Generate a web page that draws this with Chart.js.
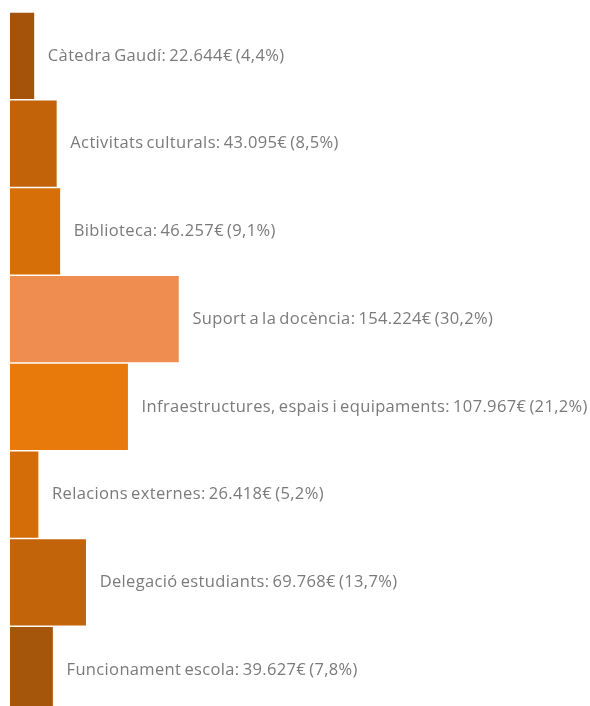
<!DOCTYPE html>
<html>
<head>
<meta charset="utf-8">
<script src="https://cdn.jsdelivr.net/npm/chart.js@4"></script>
<style>
    html, body { margin: 0; padding: 0; background: #fff; overflow: hidden; }
    #wrap { width: 590px; height: 714px; }
</style>
</head>
<body>
<div id="wrap"><canvas id="budgetChart"></canvas></div>
<script>
// budget items, top to bottom
const categories = [
    'Càtedra Gaudí',
    'Activitats culturals',
    'Biblioteca',
    'Suport a la docència',
    'Infraestructures, espais i equipaments',
    'Relacions externes',
    'Delegació estudiants',
    'Funcionament escola'
];
const amounts = [22644, 43095, 46257, 154224, 107967, 26418, 69768, 39627];
const percents = ['4,4', '8,5', '9,1', '30,2', '21,2', '5,2', '13,7', '7,8'];
const barColors = ['#A5530A', '#C2630A', '#D66F07', '#EF8C4F', '#E8790B', '#D46C08', '#C2640A', '#A6560A'];
const axisMax = 528000;

function euros(v) {
    return v.toLocaleString('de-DE') + '€';
}

const barLabels = {
    id: 'barLabels',
    afterDatasetsDraw(chart) {
        const ctx = chart.ctx;
        const meta = chart.getDatasetMeta(0);
        ctx.save();
        ctx.font = '16.5px "Open Sans"';
        ctx.letterSpacing = '0.35px';
        ctx.wordSpacing = '-1.5px';
        ctx.fillStyle = '#7a7a7a';
        ctx.textBaseline = 'middle';
        meta.data.forEach((bar, i) => {
            const text = `${categories[i]}: ${euros(amounts[i])} (${percents[i]}%)`;
            ctx.fillText(text, bar.x + 13, bar.y);
        });
        ctx.restore();
    }
};

new Chart(document.getElementById('budgetChart'), {
    type: 'bar',
    data: {
        labels: categories,
        datasets: [{
            data: amounts,
            backgroundColor: barColors,
            borderColor: 'rgba(255,255,255,0.25)',
            borderWidth: 1,
            barPercentage: 1,
            categoryPercentage: 1
        }]
    },
    options: {
        indexAxis: 'y',
        responsive: true,
        maintainAspectRatio: false,
        animation: false,
        layout: { padding: { left: 10, top: 12, right: 0, bottom: 0 } },
        scales: {
            x: { display: false, min: 0, max: axisMax },
            y: { display: false }
        },
        plugins: {
            legend: { display: false },
            tooltip: { enabled: false }
        }
    },
    plugins: [barLabels]
});
</script>
</body>
</html>
